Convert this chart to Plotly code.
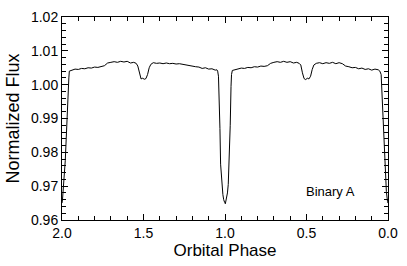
import plotly.graph_objects as go

# Orbital phase (x) and normalized flux (y)
phase = [
    0.000, 0.003, 0.010, 0.020, 0.030, 0.036, 0.042, 0.050, 0.060, 0.080,
    0.100, 0.120, 0.140, 0.160, 0.180, 0.200, 0.220, 0.240, 0.260, 0.280,
    0.300, 0.320, 0.340, 0.360, 0.380, 0.400, 0.420, 0.440, 0.455, 0.465,
    0.475, 0.485, 0.495, 0.505, 0.515, 0.525, 0.535, 0.545, 0.560, 0.580,
    0.600, 0.620, 0.640, 0.660, 0.680, 0.700, 0.720, 0.740, 0.760, 0.780,
    0.800, 0.820, 0.840, 0.860, 0.880, 0.900, 0.920, 0.940, 0.955, 0.960,
    0.963, 0.968, 0.973, 0.980, 0.985, 0.990, 0.995, 0.998, 1.002, 1.008,
    1.013, 1.018, 1.023, 1.027, 1.031, 1.035, 1.040, 1.045, 1.050, 1.060,
    1.080, 1.100, 1.120, 1.140, 1.160, 1.180, 1.200, 1.220, 1.240, 1.260,
    1.280, 1.300, 1.320, 1.340, 1.360, 1.380, 1.400, 1.420, 1.440, 1.455,
    1.465, 1.475, 1.485, 1.495, 1.505, 1.515, 1.525, 1.535, 1.545, 1.560,
    1.580, 1.600, 1.620, 1.640, 1.660, 1.680, 1.700, 1.720, 1.740, 1.760,
    1.780, 1.800, 1.820, 1.840, 1.860, 1.880, 1.900, 1.920, 1.940, 1.955,
    1.958, 1.980, 1.997, 2.000,
]
flux = [
    0.9650, 0.9655, 0.9684, 0.9800, 0.9925, 1.0000, 1.0030, 1.0040, 1.0044, 1.0046,
    1.0043, 1.0047, 1.0045, 1.0049, 1.0047, 1.0051, 1.0050, 1.0053, 1.0055, 1.0062,
    1.0065, 1.0062, 1.0066, 1.0063, 1.0065, 1.0062, 1.0065, 1.0063, 1.0058, 1.0045,
    1.0025, 1.0017, 1.0019, 1.0015, 1.0018, 1.0035, 1.0058, 1.0063, 1.0066, 1.0064,
    1.0068, 1.0066, 1.0069, 1.0066, 1.0068, 1.0066, 1.0063, 1.0056, 1.0054, 1.0055,
    1.0052, 1.0053, 1.0050, 1.0051, 1.0048, 1.0049, 1.0046, 1.0045, 1.0042, 1.0030,
    0.9995, 0.9880, 0.9765, 0.9705, 0.9680, 0.9662, 0.9653, 0.9648, 0.9652, 0.9660,
    0.9675, 0.9700, 0.9740, 0.9765, 0.9870, 0.9975, 1.0025, 1.0040, 1.0044, 1.0043,
    1.0047, 1.0046, 1.0050, 1.0048, 1.0052, 1.0053, 1.0055, 1.0057, 1.0058, 1.0060,
    1.0062, 1.0061, 1.0063, 1.0062, 1.0064, 1.0062, 1.0064, 1.0063, 1.0065, 1.0060,
    1.0050, 1.0030, 1.0018, 1.0016, 1.0019, 1.0017, 1.0035, 1.0055, 1.0063, 1.0066,
    1.0064, 1.0069, 1.0067, 1.0069, 1.0066, 1.0068, 1.0066, 1.0064, 1.0056, 1.0054,
    1.0051, 1.0052, 1.0049, 1.0050, 1.0047, 1.0048, 1.0045, 1.0046, 1.0043, 1.0040,
    1.0020, 0.9775, 0.9660, 0.9650,
]

x_range = [2.0, 0.0]
y_range = [0.96, 1.02]
x_title = "Orbital Phase"
y_title = "Normalized Flux"
label = "Binary A"

font_family = "Liberation Sans, Arial, Helvetica, sans-serif"

fig = go.Figure()
fig.add_trace(go.Scatter(
    x=phase, y=flux, mode="lines",
    line=dict(color="black", width=1),
    showlegend=False, hoverinfo="skip",
))

axis_common = dict(
    showgrid=False, zeroline=False,
    showline=True, linecolor="black", linewidth=1,
    mirror="allticks", ticks="inside", ticklen=6, tickwidth=1, tickcolor="black",
    tickfont=dict(family=font_family, size=14, color="black"),
)

fig.update_xaxes(
    range=x_range, dtick=0.5, tick0=0, tickformat=".1f",
    minor=dict(dtick=0.1, ticks="inside", ticklen=4, tickcolor="black", showgrid=False),
    title=dict(text=x_title, font=dict(family=font_family, size=17, color="black"), standoff=4),
    **axis_common,
)
fig.update_yaxes(
    range=y_range, dtick=0.01, tick0=0.96, tickformat=".2f",
    minor=dict(dtick=0.002, ticks="inside", ticklen=4, tickcolor="black", showgrid=False),
    title=dict(text=y_title, font=dict(family=font_family, size=18, color="black"), standoff=6),
    **axis_common,
)

fig.add_annotation(
    x=0.35, y=0.9685, xref="x", yref="y", text=label, showarrow=False,
    font=dict(family=font_family, size=13, color="black"),
)

fig.update_layout(
    width=407, height=266,
    margin=dict(l=62, r=12, t=9, b=37),
    paper_bgcolor="white", plot_bgcolor="white",
)

fig.write_html(
    "out.html",
    config={"displayModeBar": False, "staticPlot": True},
    post_script="document.body.style.margin='0';document.body.style.overflow='hidden';",
)
